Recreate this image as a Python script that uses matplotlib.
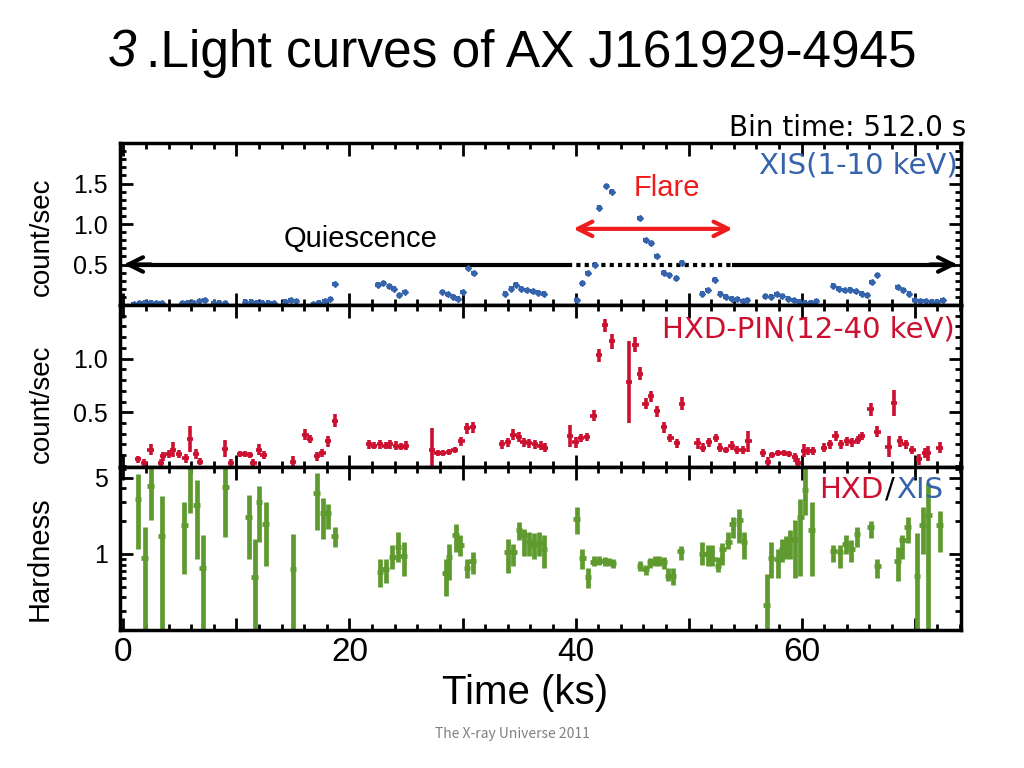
import matplotlib
matplotlib.use("Agg")
import matplotlib.pyplot as plt
import numpy as np
from matplotlib.ticker import MultipleLocator, FixedLocator, FuncFormatter, LogLocator, NullFormatter

plt.rcParams['font.family'] = ['Liberation Sans', 'DejaVu Sans']

# ---------------- data ----------------
# XIS (1-10 keV) light curve
xis_t = [0.9, 1.4, 1.9, 2.4, 2.9, 3.4,
         5.2, 5.7, 6.2, 6.7, 7.2,
         8.0, 8.5, 9.0,
         10.8, 11.3, 11.8, 12.3, 12.8, 13.3,
         14.3, 14.8, 15.3,
         16.8, 17.3, 17.8, 18.3, 18.7,
         22.5, 23.0, 23.5, 23.9, 24.4, 24.9,
         28.2, 28.7, 29.2, 29.6, 30.0, 30.5, 31.0,
         33.8, 34.3, 34.7, 35.2, 35.7, 36.2, 36.7, 37.2,
         40.1, 40.6, 41.1, 41.7, 42.1, 42.7, 43.2,
         45.7, 46.2, 46.7, 47.2, 47.8, 48.3, 48.9, 49.4,
         51.2, 51.7, 52.3, 52.8, 53.3, 53.8, 54.3, 54.8, 55.2,
         56.8, 57.3, 57.8, 58.3, 58.8, 59.3, 59.8, 60.3, 60.8, 61.3,
         62.8, 63.3, 63.8, 64.3, 64.8, 65.3, 65.8, 66.2, 66.7,
         68.5, 69.0, 69.5, 70.0, 70.5, 71.0, 71.5, 72.0, 72.5]
xis_rate = [0.01, 0.02, 0.03, 0.03, 0.02, 0.02,
            0.02, 0.03, 0.03, 0.05, 0.06,
            0.02, 0.03, 0.02,
            0.04, 0.04, 0.03, 0.03, 0.03, 0.02,
            0.04, 0.06, 0.05,
            0.01, 0.03, 0.05, 0.07, 0.26,
            0.25, 0.27, 0.23, 0.20, 0.12, 0.16,
            0.16, 0.13, 0.10, 0.08, 0.16, 0.46, 0.39,
            0.14, 0.20, 0.25, 0.20, 0.18, 0.17, 0.15, 0.14,
            0.06, 0.27, 0.39, 0.50, 1.20, 1.47, 1.40,
            1.07, 0.80, 0.76, 0.60, 0.40, 0.37, 0.33, 0.52,
            0.14, 0.18, 0.31, 0.14, 0.10, 0.08, 0.07, 0.05, 0.06,
            0.11, 0.10, 0.13, 0.11, 0.08, 0.06, 0.04, 0.03, 0.03, 0.05,
            0.24, 0.20, 0.18, 0.19, 0.17, 0.14, 0.12, 0.28, 0.37,
            0.22, 0.18, 0.14, 0.06, 0.05, 0.05, 0.04, 0.04, 0.06]

# HXD-PIN (12-40 keV) light curve
pin_t = [1.3, 1.8, 2.4, 3.3, 3.5, 4.0, 4.4, 4.9, 5.5, 5.9, 6.4, 6.8,
         9.0, 9.5, 10.3, 10.8, 11.2, 11.5, 12.0, 12.4,
         15.0, 16.1, 16.5, 17.1, 17.6, 18.1, 18.7,
         21.7, 22.2, 22.7, 23.2, 23.6, 24.1, 24.6, 25.0,
         27.3, 27.8, 28.3, 28.8, 29.3, 29.9, 30.4, 30.9,
         33.5, 34.0, 34.5, 35.0, 35.4, 35.9, 36.4, 36.9, 37.3,
         39.5, 40.0, 40.5, 41.0, 41.6, 42.1, 42.6, 43.2,
         44.7, 45.3, 45.7, 46.2, 46.7, 47.2, 47.8, 48.4, 49.0, 49.4,
         50.8, 51.3, 51.8, 52.4, 52.8, 53.3, 53.8, 54.3, 54.8, 55.3,
         56.6, 57.0, 57.4, 57.9, 58.4, 58.9, 59.4, 59.7, 60.2, 60.6, 61.0,
         62.0, 62.5, 63.0, 63.5, 64.0, 64.5, 65.0, 65.3,
         66.1, 66.7, 67.7, 68.2, 68.7, 69.2, 69.8, 70.4, 70.9, 71.2, 72.2]
pin_rate = [0.06, 0.03, 0.15, 0.03, 0.09, 0.11, 0.15, 0.11, 0.07, 0.25, 0.11, 0.04,
            0.16, 0.03, 0.11, 0.11, 0.10, 0.03, 0.15, 0.10,
            0.04, 0.29, 0.25, 0.09, 0.12, 0.23, 0.42,
            0.20, 0.19, 0.20, 0.19, 0.20, 0.19, 0.18, 0.19,
            0.15, 0.12, 0.12, 0.13, 0.15, 0.23, 0.35, 0.36,
            0.20, 0.22, 0.29, 0.27, 0.22, 0.21, 0.20, 0.19, 0.17,
            0.28, 0.22, 0.26, 0.27, 0.47, 1.03, 1.31, 1.16,
            0.78, 1.13, 0.86, 0.58, 0.65, 0.51, 0.36, 0.26, 0.21, 0.58,
            0.21, 0.17, 0.22, 0.26, 0.17, 0.15, 0.19, 0.15, 0.15, 0.23,
            0.12, 0.04, 0.10, 0.12, 0.12, 0.11, 0.08, 0.03, 0.14, 0.14, 0.14,
            0.17, 0.20, 0.28, 0.20, 0.23, 0.22, 0.24, 0.28,
            0.53, 0.32, 0.18, 0.59, 0.23, 0.20, 0.15, 0.06, 0.12, 0.12, 0.17]
pin_err = [0.03, 0.03, 0.05, 0.03, 0.04, 0.04, 0.07, 0.04, 0.04, 0.12, 0.05, 0.03,
           0.08, 0.03, 0.03, 0.03, 0.03, 0.03, 0.05, 0.04,
           0.05, 0.05, 0.04, 0.04, 0.04, 0.05, 0.06,
           0.04, 0.03, 0.04, 0.03, 0.04, 0.04, 0.03, 0.04,
           0.20, 0.03, 0.03, 0.03, 0.03, 0.04, 0.05, 0.05,
           0.04, 0.04, 0.05, 0.05, 0.04, 0.04, 0.04, 0.04, 0.04,
           0.10, 0.05, 0.04, 0.04, 0.05, 0.06, 0.06, 0.07,
           0.38, 0.07, 0.06, 0.05, 0.05, 0.05, 0.05, 0.04, 0.04, 0.06,
           0.05, 0.04, 0.04, 0.04, 0.04, 0.03, 0.04, 0.04, 0.04, 0.10,
           0.04, 0.04, 0.03, 0.03, 0.03, 0.03, 0.04, 0.04, 0.06, 0.04, 0.04,
           0.04, 0.04, 0.05, 0.04, 0.04, 0.04, 0.04, 0.04,
           0.06, 0.05, 0.10, 0.12, 0.05, 0.04, 0.04, 0.05, 0.05, 0.07, 0.05]

# Hardness ratio HXD/XIS (value, lower bound, upper bound)
hr_t = [1.3, 1.9, 2.4, 3.4, 5.4, 5.9, 6.5, 7.0, 9.0, 11.1, 11.6, 12.0, 12.6, 15.0,
        17.1, 17.7, 18.1, 18.7,
        22.7, 23.2, 23.8, 24.3, 24.8,
        28.5, 28.8, 29.4, 29.8, 30.4, 30.9,
        34.0, 34.5, 35.0, 35.4, 35.9, 36.3, 36.8, 37.2,
        40.1, 40.6, 41.1, 41.6, 42.1, 42.6, 43.0, 43.3,
        45.7, 46.2, 46.6, 47.0, 47.4, 47.8, 48.2, 48.6, 49.3,
        51.2, 51.7, 52.1, 52.6, 53.0, 53.5, 53.9, 54.5, 54.9,
        56.9, 57.3, 57.9, 58.3, 58.6, 59.0, 59.4, 59.9, 60.3, 60.9,
        62.8, 63.4, 63.9, 64.4, 64.9, 66.1, 66.7,
        68.5, 68.9, 69.4, 70.2, 70.7, 71.2, 72.2]
hr_val = [3.2, 0.91, 4.2, 1.46, 1.84, 6.3, 2.8, 0.75, 4.1, 2.2, 0.62, 3.03, 1.9, 0.73,
          3.6, 2.36, 2.36, 1.46,
          0.68, 0.72, 0.93, 1.15, 0.96,
          0.67, 0.93, 1.48, 1.2, 0.75, 0.87,
          1.04, 1.04, 1.65, 1.48, 1.28, 1.2, 1.25, 1.1,
          2.1, 0.91, 0.62, 0.84, 0.87, 0.86, 0.84, 0.82,
          0.78, 0.72, 0.84, 0.86, 0.87, 0.84, 0.63, 0.63, 1.07,
          1.0, 1.0, 0.9, 0.78, 1.11, 1.28, 1.9, 2.04, 1.28,
          0.34, 0.91, 0.9, 1.11, 1.15, 1.38, 1.33, 2.2, 3.9, 1.65,
          1.07, 1.04, 1.24, 1.11, 1.54, 1.77, 0.78,
          0.87, 1.33, 1.77, 0.63, 1.84, 2.3, 1.84]
hr_lo = [1.11, 0.1, 2.04, 0.1, 0.65, 2.4, 0.9, 0.1, 1.43, 0.9, 0.1, 1.28, 0.78, 0.1,
         1.65, 1.38, 1.71, 1.15,
         0.5, 0.54, 0.72, 0.84, 0.63,
         0.41, 0.58, 1.04, 0.96, 0.6, 0.65,
         0.67, 0.78, 1.33, 0.96, 0.96, 0.9, 0.95, 0.75,
         1.54, 0.72, 0.49, 0.78, 0.8, 0.78, 0.77, 0.74,
         0.7, 0.64, 0.75, 0.77, 0.78, 0.72, 0.56, 0.52, 0.88,
         0.8, 0.78, 0.78, 0.68, 0.8, 1.1, 1.4, 1.25, 0.9,
         0.1, 0.6, 0.6, 0.84, 0.9, 0.9, 0.6, 0.63, 2.3, 0.63,
         0.85, 0.75, 1.0, 0.85, 1.15, 1.4, 0.6,
         0.56, 0.9, 1.27, 0.1, 1.0, 0.1, 1.05]
hr_hi = [5.4, 1.77, 6.5, 3.4, 3.0, 7.0, 4.8, 1.48, 6.8, 3.5, 1.38, 4.2, 3.0, 1.54,
         5.6, 3.25, 2.9, 1.77,
         0.9, 0.9, 1.2, 1.6, 1.28,
         0.9, 1.24, 1.9, 1.48, 0.9, 1.04,
         1.38, 1.24, 1.97, 1.71, 1.6, 1.55, 1.6, 1.5,
         2.7, 1.11, 0.75, 0.95, 0.95, 0.94, 0.92, 0.9,
         0.87, 0.8, 0.92, 0.95, 0.95, 0.93, 0.74, 0.74, 1.18,
         1.3, 1.2, 1.2, 0.93, 1.25, 1.6, 2.2, 2.6, 1.6,
         0.65, 1.28, 1.11, 1.38, 1.46, 1.65, 2.04, 3.2, 6.7, 3.0,
         1.2, 1.2, 1.5, 1.35, 1.77, 2.0, 0.9,
         1.15, 1.5, 2.2, 1.55, 2.7, 4.5, 2.5]

# ---------------- styling ----------------
BLUE = '#3563ac'
RED = '#cc1030'
GREEN = '#5f9a2f'
PLOTFONT = ['DejaVu Sans']

fig = plt.figure(figsize=(10.24, 7.68), dpi=100)
L, W = 120 / 1024, 841 / 1024
def frac_y(top, bot):
    return 1 - bot / 768, (bot - top) / 768

b1, h1 = frac_y(143, 305)
b2, h2 = frac_y(305, 467)
b3, h3 = frac_y(467, 630)
ax1 = fig.add_axes([L, b1, W, h1])
ax2 = fig.add_axes([L, b2, W, h2])
ax3 = fig.add_axes([L, b3, W, h3])

XLIM = (-0.3, 74.1)
for ax in (ax1, ax2, ax3):
    ax.set_xlim(*XLIM)
    for s in ax.spines.values():
        s.set_linewidth(2.5)
    ax.xaxis.set_major_locator(MultipleLocator(10))
    ax.xaxis.set_minor_locator(MultipleLocator(2))
    ax.tick_params(which='both', direction='in', top=True, right=True, width=2)
    ax.tick_params(which='major', length=9, labelsize=18, pad=9)
    ax.tick_params(which='minor', length=4.5)

# ---- top: XIS ----
ax1.errorbar(xis_t, xis_rate, xerr=0.22, yerr=0.03, fmt='D', ms=3,
             color=BLUE, ecolor=BLUE, elinewidth=3, capsize=0)
ax1.set_ylim(0, 2.0)
ax1.yaxis.set_major_locator(FixedLocator([0.5, 1.0, 1.5]))
ax1.yaxis.set_major_formatter(FuncFormatter(lambda v, p: f"{v:.1f}"))
ax1.yaxis.set_minor_locator(MultipleLocator(0.1))
ax1.tick_params(axis='x', labelbottom=False)

# ---- middle: HXD-PIN ----
ax2.errorbar(pin_t, pin_rate, xerr=0.28, yerr=pin_err, fmt='none',
             ecolor=RED, elinewidth=2.6, capsize=0)
ax2.set_ylim(-0.01, 1.5)
ax2.yaxis.set_major_locator(FixedLocator([0.5, 1.0]))
ax2.yaxis.set_major_formatter(FuncFormatter(lambda v, p: f"{v:.1f}"))
ax2.yaxis.set_minor_locator(MultipleLocator(0.1))
ax2.tick_params(axis='x', labelbottom=False)

# ---- bottom: hardness ----
hv = np.array(hr_val)
yerr = [hv - np.array(hr_lo), np.array(hr_hi) - hv]
ax3.errorbar(hr_t, hr_val, xerr=0.3, yerr=yerr, fmt='none',
             ecolor=GREEN, elinewidth=3.4, capsize=0)
ax3.set_yscale('log')
ax3.set_ylim(0.2, 6.3)
ax3.yaxis.set_major_locator(FixedLocator([1, 5]))
ax3.yaxis.set_major_formatter(FuncFormatter(lambda v, p: f"{v:g}"))
ax3.yaxis.set_minor_locator(LogLocator(base=10, subs=np.arange(2, 10) * 1.0, numticks=20))
ax3.yaxis.set_minor_formatter(NullFormatter())
ax3.xaxis.set_major_formatter(FuncFormatter(lambda v, p: f"{int(round(v))}" if round(v) % 20 == 0 else ""))
ax3.tick_params(axis='x', which='major', labelsize=24, pad=5)

# ---- annotations in top panel ----
y_arrow = 0.5
ax1.plot([XLIM[0] + 0.5, 39.3], [y_arrow, y_arrow], color='black', lw=3, solid_capstyle='butt')
ax1.plot([39.3, 53.8], [y_arrow, y_arrow], color='black', lw=3, linestyle=(0, (1, 1)))
ax1.plot([53.8, XLIM[1] - 0.5], [y_arrow, y_arrow], color='black', lw=3, solid_capstyle='butt')
ax1.annotate('', xy=(XLIM[0] + 0.1, y_arrow), xytext=(XLIM[0] + 3, y_arrow),
             arrowprops=dict(arrowstyle='->', lw=3, color='black', mutation_scale=26))
ax1.annotate('', xy=(XLIM[1] - 0.1, y_arrow), xytext=(XLIM[1] - 3, y_arrow),
             arrowprops=dict(arrowstyle='->', lw=3, color='black', mutation_scale=26))
ax1.annotate('', xy=(39.8, 0.94), xytext=(53.9, 0.94),
             arrowprops=dict(arrowstyle='<->', lw=3, color='#ee1c1c', mutation_scale=26,
                             shrinkA=0, shrinkB=0))
ax1.text(48.1, 1.45, 'Flare', color='#ee1c1c', fontsize=21, ha='center', va='center')
ax1.text(21.0, 0.81, 'Quiescence', color='black', fontsize=21, ha='center', va='center')
ax1.text(0.996, 0.86, 'XIS(1-10 keV)', transform=ax1.transAxes, color=BLUE,
         fontsize=21, ha='right', va='center', family=PLOTFONT)
ax2.text(0.993, 0.846, 'HXD-PIN(12-40 keV)', transform=ax2.transAxes, color=RED,
         fontsize=21, ha='right', va='center', family=PLOTFONT)

yh = 1 - 490 / 768
fig.text(884 / 1024, yh, 'HXD', color=RED, fontsize=21, ha='right', va='center', family=PLOTFONT)
fig.text(890 / 1024, yh, '/', color='black', fontsize=21, ha='center', va='center', family=PLOTFONT)
fig.text(896 / 1024, yh, 'XIS', color=BLUE, fontsize=21, ha='left', va='center', family=PLOTFONT)
fig.text(966 / 1024, 1 - 128 / 768, 'Bin time: 512.0 s', color='black', fontsize=20,
         ha='right', va='center', family=PLOTFONT)

# ---- axis labels ----
fig.text(42 / 1024, 1 - 237 / 768, 'count/sec', rotation=90, fontsize=20, ha='center', va='center')
fig.text(42 / 1024, 1 - 404 / 768, 'count/sec', rotation=90, fontsize=20, ha='center', va='center')
fig.text(40 / 1024, 1 - 559 / 768, 'Hardness', rotation=90, fontsize=21, ha='center', va='center')
fig.text(525 / 1024, 1 - 693 / 768, 'Time (ks)', fontsize=29, ha='center', va='center')

# ---- title & footer ----
fig.text(108 / 1024, 1 - 53 / 768, '3', fontsize=37, style='italic', ha='left', va='center')
fig.text(146 / 1024, 1 - 53 / 768, '.Light curves of AX J161929-4945', fontsize=37,
         ha='left', va='center')
fig.text(512 / 1024, 1 - 734 / 768, 'The X-ray Universe 2011', fontsize=10, color='#808080',
         ha='center', va='center', family=['Noto Sans CJK JP', 'DejaVu Sans'])

fig.savefig('out.png', dpi=100)
